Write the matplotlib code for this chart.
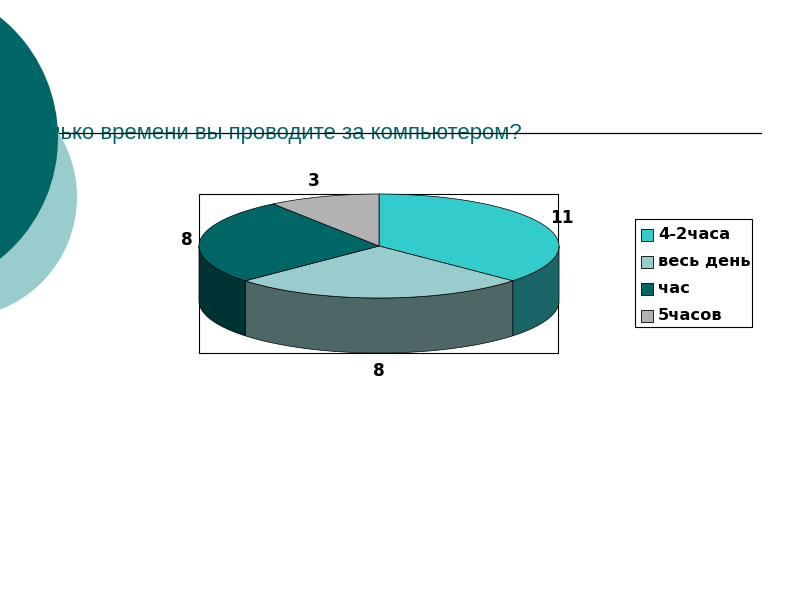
import numpy as np
import matplotlib
matplotlib.use("Agg")
import matplotlib.pyplot as plt
from matplotlib.patches import Ellipse, Polygon, Rectangle

labels = ["4-2часа", "весь день", "час", "5часов"]
values = [11, 8, 8, 3]
top_colors = ["#33CCCC", "#99CCCC", "#006666", "#B2B2B2"]
side_colors = ["#1A6666", "#4D6666", "#003333", "#595959"]
title = "Сколько времени вы проводите за компьютером?"

fig = plt.figure(figsize=(8, 6), dpi=100)
ax = fig.add_axes([0, 0, 1, 1])
ax.set_xlim(0, 800)
ax.set_ylim(600, 0)
ax.axis("off")

ax.text(522, 133, title, fontsize=15.9, family="Liberation Sans", color="#006666",
        va="center", ha="right", zorder=1)
ax.plot([0, 761], [133, 133], color="black", lw=0.9, zorder=2)
ax.add_patch(Ellipse((-44, 197), 242, 242, color="#99CCCC", lw=0, zorder=3))
ax.add_patch(Ellipse((-97, 138), 310, 310, color="#006666", lw=0, zorder=4))

cx, cy, rx, ry, depth = 379, 246, 180, 52, 55
ax.add_patch(Rectangle((199, 194), 359, 159, fc="white", ec="black", lw=0.8, zorder=5))

fractions = np.array(values) / sum(values)
starts = 90 - 360 * np.concatenate([[0], np.cumsum(fractions)[:-1]])
ends = starts - 360 * fractions

def pt(a):
    return cx + rx * np.cos(np.radians(a)), cy - ry * np.sin(np.radians(a))

for s, e, c in zip(starts, ends, side_colors):
    lo, hi = max(e, -180), min(s, 0)
    if lo < hi:
        t = np.linspace(hi, lo, 80)
        x, y = pt(t)
        poly = np.r_[np.c_[x, y], np.c_[x[::-1], y[::-1] + depth]]
        ax.add_patch(Polygon(poly, fc=c, ec="black", lw=0.5, zorder=6))

for s, e, c in zip(starts, ends, top_colors):
    t = np.linspace(s, e, 120)
    x, y = pt(t)
    poly = np.r_[[[cx, cy]], np.c_[x, y]]
    ax.add_patch(Polygon(poly, fc=c, ec="black", lw=0.5, zorder=7))

font = dict(family="DejaVu Sans", fontweight="bold", color="black", zorder=9)
for pos, v in zip([(562, 218), (379, 371), (187, 240), (314, 181)], values):
    ax.text(pos[0], pos[1], str(v), fontsize=12.2, ha="center", va="center", **font)

ax.add_patch(Rectangle((635, 219), 117, 108, fc="white", ec="black", lw=0.8, zorder=5))
for i, (lab, c) in enumerate(zip(labels, top_colors)):
    y = 234.5 + i * 27
    ax.add_patch(Rectangle((641, y - 6), 12, 12, fc=c, ec="black", lw=0.6, zorder=6))
    ax.text(658, y, lab, fontsize=11.7, ha="left", va="center", **font)

fig.savefig("out.png", dpi=100)
